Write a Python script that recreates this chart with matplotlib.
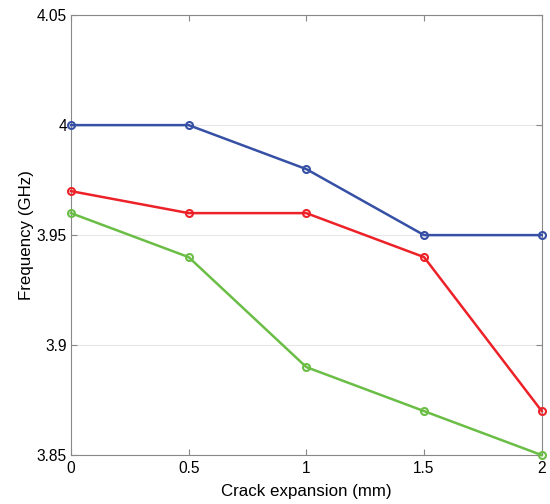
import matplotlib
matplotlib.use("Agg")
import matplotlib.pyplot as plt

# crack expansion (mm) vs resonant frequency (GHz)
crack_mm = [0, 0.5, 1, 1.5, 2]
freq_blue = [4.00, 4.00, 3.98, 3.95, 3.95]
freq_red = [3.97, 3.96, 3.96, 3.94, 3.87]
freq_green = [3.96, 3.94, 3.89, 3.87, 3.85]

x_ticks = [0, 0.5, 1, 1.5, 2]
x_tick_labels = ["0", "0.5", "1", "1.5", "2"]
y_ticks = [3.85, 3.9, 3.95, 4.0, 4.05]
y_tick_labels = ["3.85", "3.9", "3.95", "4", "4.05"]

plt.rcParams['font.family'] = ['Liberation Sans', 'DejaVu Sans']

fig = plt.figure(figsize=(5.5, 5.04), dpi=100)
ax = fig.add_axes([0.129, 0.097, 0.856, 0.873])

series = [
    (freq_blue, '#3550a5'),
    (freq_red, '#ec2228'),
    (freq_green, '#6abd45'),
]
for vals, col in series:
    ax.plot(crack_mm, vals, color=col, linewidth=1.8, marker='o',
            markersize=5, markerfacecolor='none', markeredgewidth=1.5,
            clip_on=False, zorder=3)

ax.set_xlim(0, 2)
ax.set_ylim(3.85, 4.05)
ax.set_xticks(x_ticks)
ax.set_xticklabels(x_tick_labels)
ax.set_yticks(y_ticks)
ax.set_yticklabels(y_tick_labels)
ax.tick_params(direction='in', length=4, width=0.8, color='#888888',
               labelsize=11.2, top=True, right=True, pad=3)
ax.tick_params(axis='x', pad=4)
ax.grid(True, axis='y', color='#e6e6e6', linewidth=0.8)
ax.set_axisbelow(True)
for s in ax.spines.values():
    s.set_color('#888888')
    s.set_linewidth(0.8)

ax.set_xlabel('Crack expansion (mm)', fontsize=12.2, labelpad=6)
ax.set_ylabel('Frequency (GHz)', fontsize=12.2, labelpad=2)

fig.savefig('out.png', dpi=100)
